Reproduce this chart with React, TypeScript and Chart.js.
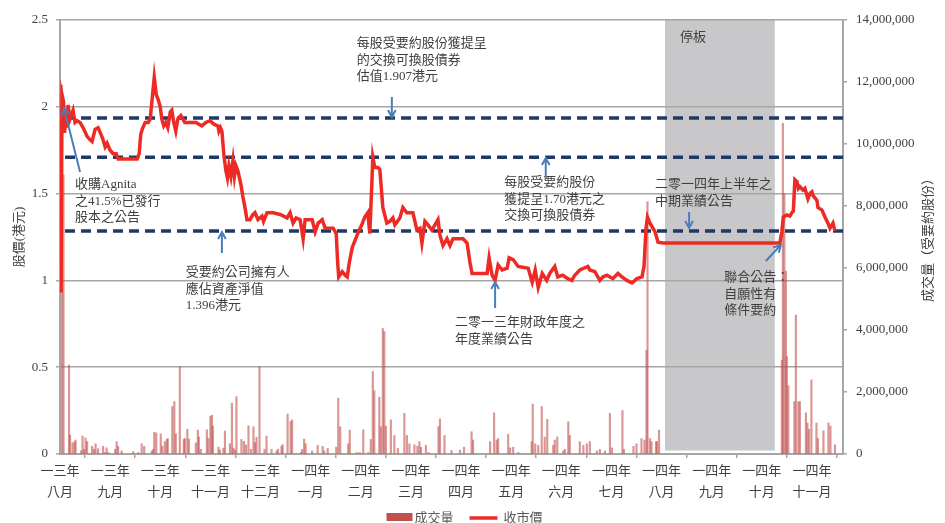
import React, { useEffect, useRef } from 'react';
import { Chart, registerables } from 'chart.js';

Chart.register(...registerables);

// ---- axis labels (x in months since Aug 2013, one tick per month) ----
const yearLabels = ['一三年', '一三年', '一三年', '一三年', '一三年', '一四年', '一四年', '一四年', '一四年', '一四年', '一四年', '一四年', '一四年', '一四年', '一四年', '一四年'];
const monthLabels = ['八月', '九月', '十月', '十一月', '十二月', '一月', '二月', '三月', '四月', '五月', '六月', '七月', '八月', '九月', '十月', '十一月'];
const xMax = 15.62;

// ---- closing price (HK$) ----
const priceX = [0.02, 0.04, 0.07, 0.09, 0.12, 0.14, 0.16, 0.2, 0.26, 0.3, 0.34, 0.4, 0.46, 0.54, 0.6, 0.64, 0.7, 0.76, 0.82, 0.86, 0.9, 0.94, 1.0, 1.06, 1.12, 1.16, 1.3, 1.4, 1.54, 1.58, 1.61, 1.64, 1.7, 1.76, 1.8, 1.84, 1.88, 1.92, 1.96, 2.0, 2.03, 2.07, 2.11, 2.15, 2.2, 2.23, 2.27, 2.31, 2.35, 2.41, 2.49, 2.59, 2.71, 2.83, 2.91, 2.99, 3.07, 3.15, 3.17, 3.2, 3.23, 3.27, 3.31, 3.34, 3.37, 3.41, 3.45, 3.48, 3.51, 3.55, 3.61, 3.65, 3.69, 3.73, 3.79, 3.85, 3.89, 3.95, 4.03, 4.06, 4.13, 4.25, 4.39, 4.53, 4.59, 4.65, 4.71, 4.79, 4.85, 4.89, 5.03, 5.09, 5.15, 5.23, 5.29, 5.45, 5.51, 5.54, 5.56, 5.63, 5.69, 5.73, 5.77, 5.83, 5.94, 6.02, 6.08, 6.14, 6.18, 6.22, 6.24, 6.28, 6.34, 6.38, 6.44, 6.52, 6.58, 6.64, 6.68, 6.78, 6.84, 6.92, 7.04, 7.12, 7.18, 7.22, 7.28, 7.34, 7.42, 7.54, 7.58, 7.64, 7.72, 7.78, 7.84, 8.04, 8.12, 8.18, 8.22, 8.38, 8.52, 8.56, 8.62, 8.68, 8.74, 8.82, 8.92, 8.96, 9.04, 9.14, 9.34, 9.42, 9.48, 9.54, 9.62, 9.71, 9.77, 9.87, 9.93, 10.03, 10.13, 10.21, 10.27, 10.37, 10.53, 10.57, 10.67, 10.77, 10.83, 10.91, 11.03, 11.13, 11.21, 11.31, 11.41, 11.51, 11.61, 11.65, 11.69, 11.72, 11.77, 11.81, 11.87, 11.93, 12.03, 12.77, 13.56, 14.36, 14.4, 14.43, 14.5, 14.56, 14.6, 14.63, 14.66, 14.7, 14.73, 14.76, 14.82, 14.86, 14.92, 14.96, 15.0, 15.02, 15.1, 15.12, 15.2, 15.26, 15.32, 15.36, 15.42, 15.46];
const priceY = [0.93, 2.07, 2.03, 1.85, 1.95, 1.88, 2.01, 1.93, 1.98, 1.91, 1.92, 1.91, 1.88, 1.83, 1.81, 1.8, 1.87, 1.88, 1.84, 1.81, 1.77, 1.79, 1.75, 1.73, 1.73, 1.7, 1.7, 1.7, 1.7, 1.73, 1.84, 1.87, 1.91, 1.91, 1.93, 2.05, 2.17, 2.07, 2.04, 2.0, 1.93, 1.89, 1.91, 1.88, 1.97, 1.98, 1.91, 1.86, 1.93, 1.95, 1.91, 1.91, 1.91, 1.89, 1.91, 1.92, 1.9, 1.89, 1.86, 1.88, 1.86, 1.72, 1.63, 1.59, 1.66, 1.6, 1.69, 1.6, 1.66, 1.63, 1.55, 1.48, 1.42, 1.35, 1.35, 1.38, 1.39, 1.35, 1.37, 1.34, 1.39, 1.39, 1.38, 1.36, 1.39, 1.33, 1.36, 1.35, 1.24, 1.35, 1.35, 1.28, 1.33, 1.35, 1.3, 1.3, 1.27, 1.1, 1.02, 1.05, 1.03, 1.02, 1.1, 1.19, 1.27, 1.32, 1.365, 1.39, 1.27, 1.55, 1.71, 1.65, 1.65, 1.64, 1.42, 1.33, 1.34, 1.36, 1.32, 1.36, 1.42, 1.39, 1.39, 1.29, 1.3, 1.215, 1.34, 1.32, 1.29, 1.35, 1.26, 1.2, 1.24, 1.2, 1.24, 1.24, 1.215, 1.1, 1.04, 1.04, 1.04, 1.13, 1.03, 1.0, 1.09, 1.06, 1.07, 1.13, 1.12, 1.08, 1.07, 0.99, 1.06, 0.96, 1.04, 1.0, 1.04, 1.08, 1.02, 1.03, 1.01, 1.0, 1.03, 1.06, 1.08, 1.06, 1.05, 1.0, 1.02, 1.03, 1.01, 1.04, 1.02, 1.0, 0.985, 1.01, 1.02, 1.08, 1.3, 1.365, 1.33, 1.31, 1.28, 1.22, 1.215, 1.215, 1.215, 1.215, 1.28, 1.365, 1.377, 1.37, 1.39, 1.4, 1.58, 1.57, 1.53, 1.54, 1.52, 1.53, 1.47, 1.5, 1.51, 1.49, 1.46, 1.42, 1.405, 1.365, 1.33, 1.3, 1.33, 1.285];

// ---- daily volume (millions of offer shares) ----
const volumeX = [0.04, 0.07, 0.18, 0.2, 0.25, 0.29, 0.31, 0.42, 0.45, 0.48, 0.51, 0.54, 0.64, 0.68, 0.71, 0.76, 0.86, 0.9, 0.93, 0.96, 1.1, 1.13, 1.16, 1.23, 1.46, 1.56, 1.63, 1.68, 1.83, 1.86, 1.88, 1.92, 2.01, 2.04, 2.09, 2.13, 2.15, 2.24, 2.28, 2.31, 2.39, 2.47, 2.49, 2.54, 2.57, 2.71, 2.75, 2.77, 2.81, 2.93, 2.96, 3.0, 3.03, 3.05, 3.16, 3.19, 3.26, 3.29, 3.39, 3.43, 3.46, 3.49, 3.52, 3.62, 3.67, 3.71, 3.76, 3.81, 3.86, 3.89, 3.92, 3.98, 4.08, 4.12, 4.22, 4.32, 4.35, 4.42, 4.44, 4.54, 4.6, 4.63, 4.81, 4.83, 4.87, 4.9, 5.03, 5.14, 5.24, 5.27, 5.34, 5.51, 5.55, 5.59, 5.75, 5.78, 5.92, 5.98, 6.05, 6.15, 6.2, 6.24, 6.27, 6.37, 6.4, 6.44, 6.47, 6.5, 6.6, 6.67, 6.74, 6.87, 6.92, 6.97, 7.07, 7.13, 7.17, 7.2, 7.3, 7.35, 7.55, 7.58, 7.67, 7.81, 7.98, 8.06, 8.21, 8.24, 8.58, 8.66, 8.71, 8.74, 8.94, 8.98, 9.04, 9.14, 9.41, 9.43, 9.48, 9.54, 9.61, 9.67, 9.72, 9.84, 9.87, 9.92, 10.04, 10.07, 10.14, 10.17, 10.37, 10.44, 10.51, 10.57, 10.71, 10.77, 10.87, 10.97, 11.01, 11.22, 11.25, 11.44, 11.5, 11.6, 11.66, 11.7, 11.72, 11.77, 11.8, 11.89, 11.91, 11.95, 14.4, 14.42, 14.45, 14.48, 14.5, 14.53, 14.65, 14.68, 14.73, 14.76, 14.88, 14.91, 14.94, 14.99, 15.09, 15.12, 15.23, 15.33, 15.37, 15.46];
const volumeM = [11.9, 9.0, 2.87, 0.61, 0.36, 0.39, 0.45, 0.1, 0.58, 0.15, 0.52, 0.4, 0.25, 0.15, 0.33, 0.17, 0.25, 0.05, 0.2, 0.05, 0.15, 0.4, 0.25, 0.1, 0.08, 0.05, 0.33, 0.25, 0.1, 0.15, 0.7, 0.68, 0.65, 0.25, 0.4, 0.47, 0.5, 1.53, 1.69, 0.65, 2.82, 0.47, 0.5, 0.8, 0.48, 0.36, 0.77, 0.55, 0.15, 0.78, 0.5, 1.22, 1.25, 0.9, 0.22, 0.13, 0.19, 0.74, 0.33, 1.64, 0.19, 0.13, 1.85, 0.47, 0.41, 0.29, 0.91, 0.15, 0.88, 0.37, 0.54, 2.82, 0.15, 0.58, 0.15, 0.1, 0.15, 0.25, 0.3, 1.29, 1.05, 1.1, 0.05, 0.15, 0.48, 0.33, 0.1, 0.28, 0.25, 0.1, 0.18, 0.22, 1.8, 0.88, 0.33, 0.77, 0.05, 0.05, 0.78, 0.05, 0.47, 2.66, 2.04, 1.83, 0.88, 4.05, 3.95, 0.9, 1.1, 0.6, 0.18, 1.31, 0.6, 0.33, 0.3, 0.25, 0.4, 0.22, 0.28, 0.05, 0.88, 1.13, 0.6, 0.12, 0.12, 0.22, 0.72, 0.45, 0.4, 1.33, 0.45, 0.5, 0.64, 0.2, 0.22, 0.05, 0.4, 1.61, 0.33, 0.28, 1.53, 0.55, 1.12, 0.28, 0.45, 0.55, 0.1, 0.15, 1.04, 0.6, 0.4, 0.28, 0.33, 0.4, 0.1, 0.15, 0.1, 1.31, 0.2, 1.4, 0.15, 0.25, 0.33, 0.5, 0.45, 3.35, 8.14, 0.5, 0.4, 0.4, 0.4, 0.77, 3.03, 10.67, 8.4, 5.9, 3.14, 2.2, 1.69, 4.48, 1.69, 1.69, 1.33, 1.0, 0.8, 2.39, 1.0, 0.5, 0.75, 1.0, 0.9, 0.3];

// ---- offer reference levels (HK$) and trading suspension ----
const offerLevels = [1.935, 1.71, 1.285];
const suspension = [12.07, 14.26];

// ---- annotations (data coordinates: months, HK$) ----
const notes = [
  { lines: ['收購Agnita', '之41.5%已發行', '股本之公告'], x: 0.3, y: 1.55, arrow: [0.4, 1.624, 0.08, 1.993] },
  { lines: ['受要約公司擁有人', '應佔資產淨值', '1.396港元'], x: 2.51, y: 1.043, arrow: [3.23, 1.158, 3.23, 1.279] },
  { lines: ['每股受要約股份獲提呈', '的交換可換股債券', '估值1.907港元'], x: 5.92, y: 2.362, arrow: [6.62, 2.056, 6.62, 1.941] },
  { lines: ['每股受要約股份', '獲提呈1.70港元之', '交換可換股債券'], x: 8.86, y: 1.561, arrow: [9.69, 1.59, 9.69, 1.705] },
  { lines: ['二零一三年財政年度之', '年度業績公告'], x: 7.88, y: 0.755, arrow: [8.68, 0.841, 8.68, 0.991] },
  { lines: ['二零一四年上半年之', '中期業績公告'], x: 11.87, y: 1.55, arrow: [12.55, 1.394, 12.55, 1.302] },
  { lines: ['聯合公告：', '自願性有', '條件要約'], x: 13.25, y: 1.014, arrow: [14.08, 1.112, 14.38, 1.204] },
  { lines: ['停板'], x: 12.37, y: 2.396, arrow: null as null | number[] },
];

const FONT = "'Liberation Serif', 'Noto Sans CJK TC', serif";
const SANS = "'Noto Sans CJK TC', 'Noto Sans', sans-serif";
const GRID = '#a6a6a6';
const TEXT = '#404040';

const overlayPlugin = {
  id: 'overlay',
  beforeDraw(chart: any) {
    const { ctx, scales } = chart;
    const x = scales.x, y = scales.y;
    const x1 = x.getPixelForValue(suspension[0]);
    const x2 = x.getPixelForValue(suspension[1]);
    const y1 = y.getPixelForValue(2.5);
    const y2 = y.getPixelForValue(0.02);
    ctx.save();
    ctx.fillStyle = '#c8c8ca';
    ctx.fillRect(x1, y1, x2 - x1, y2 - y1);
    ctx.restore();
  },
  afterDraw(chart: any) {
    const { ctx, scales, chartArea, width } = chart;
    const x = scales.x, y = scales.y;
    ctx.save();
    // annotations
    ctx.font = `13px ${FONT}`;
    ctx.fillStyle = TEXT;
    ctx.textBaseline = 'middle';
    ctx.textAlign = 'left';
    notes.forEach((n) => {
      const px = x.getPixelForValue(n.x);
      const py = y.getPixelForValue(n.y);
      n.lines.forEach((t, i) => ctx.fillText(t, px, py + i * 16.5));
      if (n.arrow) {
        const ax = x.getPixelForValue(n.arrow[0]);
        const ay = y.getPixelForValue(n.arrow[1]);
        const bx = x.getPixelForValue(n.arrow[2]);
        const by = y.getPixelForValue(n.arrow[3]);
        ctx.strokeStyle = '#4a7ebb';
        ctx.lineWidth = 2;
        ctx.beginPath();
        ctx.moveTo(ax, ay);
        ctx.lineTo(bx, by);
        const ang = Math.atan2(by - ay, bx - ax);
        const hl = 8;
        ctx.moveTo(bx - hl * Math.cos(ang - 0.5), by - hl * Math.sin(ang - 0.5));
        ctx.lineTo(bx, by);
        ctx.lineTo(bx - hl * Math.cos(ang + 0.5), by - hl * Math.sin(ang + 0.5));
        ctx.stroke();
      }
    });
    // axis titles
    const midY = (chartArea.top + chartArea.bottom) / 2;
    ctx.textAlign = 'center';
    ctx.font = `13px ${FONT}`;
    ctx.save();
    ctx.translate(chartArea.left - 40, midY);
    ctx.rotate(-Math.PI / 2);
    ctx.fillText('股價(港元)', 0, 0);
    ctx.restore();
    ctx.save();
    ctx.translate(chartArea.right + 86, midY);
    ctx.rotate(-Math.PI / 2);
    ctx.fillText('成交量（受要約股份）', 0, 0);
    ctx.restore();
    // legend
    const ly = 517;
    let lx = width / 2 - 86;
    ctx.fillStyle = '#c0504d';
    ctx.fillRect(lx, ly - 4, 26, 8);
    lx += 28;
    ctx.fillStyle = '#595959';
    ctx.textAlign = 'left';
    ctx.font = `13px ${SANS}`;
    ctx.fillText('成交量', lx, ly);
    lx += 55;
    ctx.strokeStyle = '#ee2a24';
    ctx.lineWidth = 3.5;
    ctx.beginPath();
    ctx.moveTo(lx, ly + 1);
    ctx.lineTo(lx + 28, ly + 1);
    ctx.stroke();
    lx += 34;
    ctx.fillText('收市價', lx, ly);
    ctx.restore();
  },
};

export default function App() {
  const ref = useRef<HTMLCanvasElement>(null);
  useEffect(() => {
    if (!ref.current) return;
    const priceData = priceX.map((v, i) => ({ x: v, y: priceY[i] }));
    const volData = volumeX.map((v, i) => ({ x: v, y: volumeM[i] * 1e6 }));
    const levelSets = offerLevels.map((lv) => ({
      type: 'line' as const,
      data: [{ x: 0.1, y: lv }, { x: xMax, y: lv }],
      borderColor: '#1f3864',
      borderWidth: 3.5,
      borderDash: [10, 6],
      pointRadius: 0,
      yAxisID: 'y',
      order: 1,
    }));
    const chart = new Chart(ref.current, {
      type: 'bar',
      data: {
        datasets: [
          {
            type: 'line',
            label: '收市價',
            data: priceData,
            borderColor: '#ee2a24',
            borderWidth: 3.5,
            pointRadius: 0,
            tension: 0,
            yAxisID: 'y',
            order: 0,
          } as any,
          ...levelSets,
          {
            type: 'bar',
            label: '成交量',
            data: volData,
            backgroundColor: 'rgba(192,80,77,0.6)',
            barThickness: 1.5,
            yAxisID: 'y2',
            order: 2,
          } as any,
        ],
      },
      options: {
        responsive: false,
        animation: false,
        devicePixelRatio: 1,
        layout: { padding: { top: 20, left: 0, right: 0, bottom: 0 } },
        plugins: { legend: { display: false }, tooltip: { enabled: false } },
        scales: {
          x: {
            type: 'linear',
            min: 0,
            max: xMax,
            offset: false,
            afterBuildTicks: (s: any) => {
              s.ticks = monthLabels.map((_, i) => ({ value: i }));
            },
            afterFit: (s: any) => {
              s.height = 69;
            },
            grid: { drawOnChartArea: false, drawTicks: true, tickLength: 4, color: GRID, lineWidth: 1.5 },
            border: { color: GRID, width: 2 },
            ticks: {
              autoSkip: false,
              maxRotation: 0,
              padding: 3,
              color: TEXT,
              font: { family: FONT, size: 13, lineHeight: 1.6 },
              callback: (v: any) => [yearLabels[v], monthLabels[v]],
            },
          },
          y: {
            type: 'linear',
            position: 'left',
            min: 0,
            max: 2.5,
            afterFit: (s: any) => {
              s.width = 60;
            },
            grid: { color: GRID, lineWidth: 1.5, tickLength: 4 },
            border: { color: GRID, width: 2 },
            ticks: {
              stepSize: 0.5,
              padding: 8,
              color: TEXT,
              font: { family: FONT, size: 13 },
              callback: (v: any) => String(v),
            },
          },
          y2: {
            type: 'linear',
            position: 'right',
            min: 0,
            max: 14000000,
            afterFit: (s: any) => {
              s.width = 102;
            },
            grid: { drawOnChartArea: false, color: GRID, lineWidth: 1.5, tickLength: 4 },
            border: { color: GRID, width: 2 },
            ticks: {
              stepSize: 2000000,
              padding: 9,
              color: TEXT,
              font: { family: FONT, size: 13 },
              callback: (v: any) => Number(v).toLocaleString('en-US'),
            },
          },
        },
      } as any,
      plugins: [overlayPlugin],
    });
    return () => chart.destroy();
  }, []);
  return (
    <div style={{ position: 'absolute', left: 0, top: 0, width: 945, height: 523, background: '#fff' }}>
      <canvas ref={ref} width={945} height={523} style={{ display: 'block' }} />
    </div>
  );
}
